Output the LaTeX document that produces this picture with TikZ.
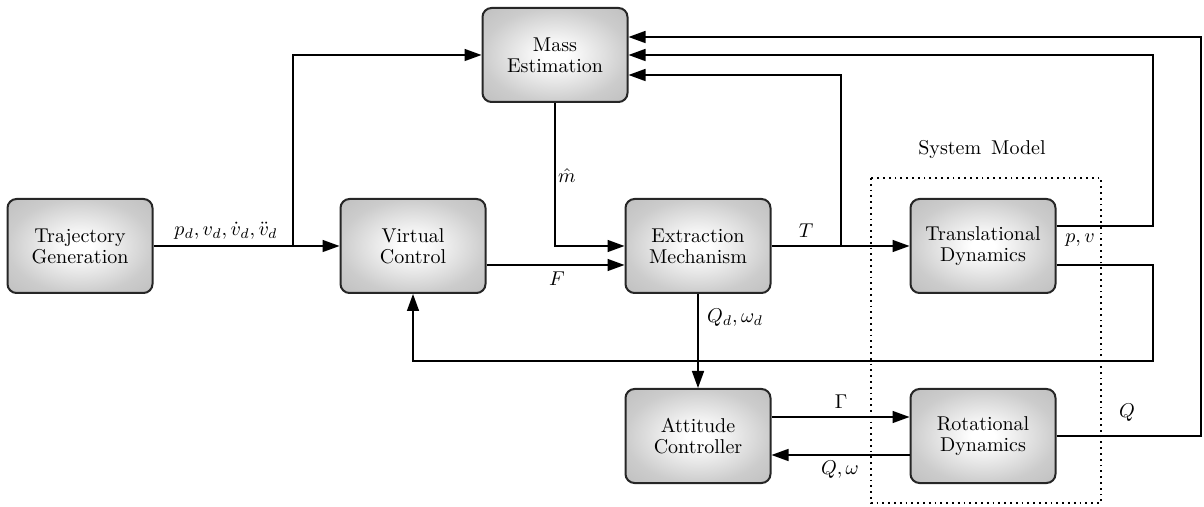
\documentclass[tikz,border=0pt]{standalone}
\usetikzlibrary{arrows.meta}
\pgfdeclareradialshading{boxshade}{\pgfpointorigin}{color(0bp)=(white); color(4bp)=(white); color(25bp)=(black!20); color(36bp)=(black!25); color(50bp)=(black!25)}
\begin{document}
\begin{tikzpicture}[x=0.5pt,y=-0.5pt,
  blk/.style={draw=black!85,line width=1pt,rounded corners=4.5pt,
    minimum width=72.5pt,minimum height=47pt,align=center,
    shading=boxshade,
    font=\fontsize{10}{10.5}\selectfont},
  arr/.style={line width=0.75pt,-{Triangle[length=8.5pt,width=6pt]}},
  lbl/.style={inner sep=1pt,font=\normalsize}]
\useasboundingbox (0,0) rectangle (1204,507);
% system model frame
\draw[line width=0.9pt,dotted] (871,178) rectangle (1101,503);
\node[lbl] (smlbl) at (982,150) {System\, Model};
% blocks
\node[blk] (tg) at (80,246) {Trajectory\\Generation};
\node[blk] (vc) at (413,246) {Virtual\\Control};
\node[blk] (me) at (555,55) {Mass\\Estimation};
\node[blk] (em) at (698,246) {Extraction\\Mechanism};
\node[blk] (td) at (983,246) {Translational\\Dynamics};
\node[blk] (ac) at (698,436) {Attitude\\Controller};
\node[blk] (rd) at (983,436) {Rotational\\Dynamics};
% coordinates
\coordinate (b1) at (293,246);
\coordinate (b2) at (841,246);
\coordinate (r1) at (1153,55);
\coordinate (fb) at (1153,361);
\coordinate (q) at (1201,37);
% connectors
\draw[arr] (tg.east) -- (vc.west);
\draw[arr] (b1) |- (me.west);
\draw[arr] ([yshift=-9.5pt]vc.east) -- ([yshift=-9.5pt]em.west);
\draw[arr] (me.south) |- (em.west);
\draw[arr] (em.east) -- (td.west);
\draw[arr] (b2) |- ([yshift=-10pt]me.east);
\draw[arr] ([yshift=10pt]td.east) -| (r1) -- (me.east);
\draw[arr] ([yshift=-9.5pt]td.east) -| (fb) -| (vc.south);
\draw[arr] (rd.east) -| (q) -- ([yshift=9pt]me.east);
\draw[arr] (em.south) -- (ac.north);
\draw[arr] ([yshift=9.5pt]ac.east) -- ([yshift=9.5pt]rd.west);
\draw[arr] ([yshift=-9.5pt]rd.west) -- ([yshift=-9.5pt]ac.east);
% labels
\node[lbl] (l1) at (226,231) {$p_d, v_d, \dot v_d, \ddot v_d$};
\node[lbl] (l2) at (567,176) {$\hat m$};
\node[lbl] (l3) at (557,279) {$F$};
\node[lbl] (l4) at (806,231) {$T$};
\node[lbl] (l5) at (1080,240) {$p, v$};
\node[lbl] (l6) at (735,318) {$Q_d, \omega_d$};
\node[lbl] (l7) at (841,402) {$\Gamma$};
\node[lbl] (l8) at (840,470) {$Q, \omega$};
\node[lbl] (l9) at (1127,413) {$Q$};
\end{tikzpicture}
\end{document}
